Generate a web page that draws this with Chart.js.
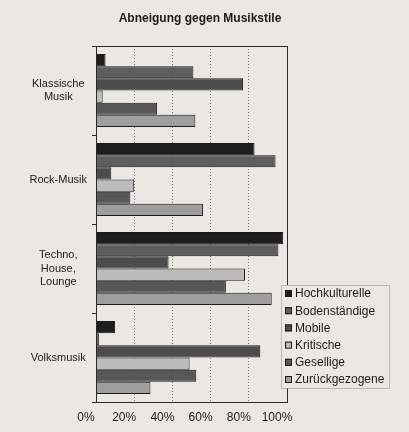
<!DOCTYPE html>
<html>
<head>
<meta charset="utf-8">
<script src="https://cdn.jsdelivr.net/npm/chart.js@4"></script>
<style>
  html, body { margin: 0; padding: 0; background: #ebe8e3; }
  #wrap { width: 409px; height: 432px; }
</style>
</head>
<body>
<div id="wrap"><canvas id="chart" width="409" height="432"></canvas></div>
<script>
const categories = [['Klassische', 'Musik'], 'Rock-Musik', ['Techno,', 'House,', 'Lounge'], 'Volksmusik'];
const seriesNames = ['Hochkulturelle', 'Bodenständige', 'Mobile', 'Kritische', 'Gesellige', 'Zurückgezogene'];
const hochkulturelle = [5, 83, 98, 10];
const bodenstaendige = [51, 94, 95.5, 1.5];
const mobile = [77, 8, 38, 86];
const kritische = [3.5, 20, 78, 49];
const gesellige = [32, 18, 68, 52.5];
const zurueckgezogene = [52, 56, 92, 28.5];
const xTicks = [0, 20, 40, 60, 80, 100];

const colors = ['#1e1e1e', '#5e5e5e', '#4c4c4c', '#bcbcbc', '#575757', '#9e9e9e'];
const values = [hochkulturelle, bodenstaendige, mobile, kritische, gesellige, zurueckgezogene];
const bg = '#ebe8e3';
const ink = '#1a1a1a';

// frame around the plot, the title moved to the page centre, legend drawn over the plot
const framePlugin = {
  id: 'frame',
  afterLayout(chart) {
    if (chart.titleBlock) {
      chart.titleBlock.left = 0;
      chart.titleBlock.right = 400;
    }
  },
  afterDatasetsDraw(chart) {
    const { ctx, chartArea: a } = chart;
    ctx.save();
    ctx.strokeStyle = '#2a2a2a';
    ctx.lineWidth = 1;
    ctx.strokeRect(Math.round(a.left) + 0.5, Math.round(a.top) + 0.5, Math.round(a.right - a.left), Math.round(a.bottom - a.top));
    ctx.restore();
  },
  afterDraw(chart) {
    const ctx = chart.ctx;
    const x = 281, y = 285, w = 108, h = 103;
    ctx.save();
    ctx.fillStyle = bg;
    ctx.fillRect(x, y, w, h);
    ctx.strokeStyle = '#8a8a8a';
    ctx.setLineDash([1, 1]);
    ctx.strokeRect(x + 0.5, y + 0.5, w, h);
    ctx.setLineDash([]);
    ctx.font = '12px "Liberation Sans", Arial, sans-serif';
    ctx.textBaseline = 'middle';
    chart.data.datasets.forEach((ds, i) => {
      const cy = y + 9 + i * 17.2;
      ctx.fillStyle = ds.backgroundColor;
      ctx.fillRect(x + 4, cy - 4, 7, 7);
      ctx.strokeStyle = ink;
      ctx.strokeRect(x + 4.5, cy - 3.5, 6, 6);
      ctx.fillStyle = ink;
      ctx.fillText(ds.label, x + 14, cy);
    });
    ctx.restore();
  }
};

new Chart(document.getElementById('chart'), {
  type: 'bar',
  data: {
    labels: categories,
    datasets: seriesNames.map((name, i) => ({
      label: name,
      data: values[i],
      backgroundColor: colors[i],
      borderColor: ink,
      borderWidth: 1,
      categoryPercentage: 0.82,
      barPercentage: 1
    }))
  },
  options: {
    indexAxis: 'y',
    responsive: false,
    animation: false,
    layout: { padding: { left: 26, right: 122, top: 0, bottom: 5 } },
    scales: {
      x: {
        min: 0,
        max: 100,
        afterBuildTicks: (scale) => { scale.ticks = xTicks.map(v => ({ value: v })); },
        afterFit: (scale) => { scale.height = 25; },
        ticks: {
          callback: (v) => v + '%',
          color: ink,
          padding: 8,
          labelOffset: -10,
          maxRotation: 0,
          font: { family: '"Liberation Sans", Arial, sans-serif', size: 12 }
        },
        grid: {
          drawTicks: false,
          color: (c) => (c.tick && (c.tick.value === 0 || c.tick.value === 100)) ? 'rgba(0,0,0,0)' : '#7a7a7a'
        },
        border: { display: true, color: '#2a2a2a', dash: [1, 2] }
      },
      y: {
        afterFit: (scale) => { scale.width = 70; },
        ticks: {
          color: ink,
          crossAlign: 'center',
          padding: 5,
          font: { family: '"Liberation Sans", Arial, sans-serif', size: 11, lineHeight: 1.25 }
        },
        grid: {
          drawOnChartArea: false,
          drawTicks: true,
          tickLength: 4,
          color: '#2a2a2a'
        },
        border: { display: true, color: '#2a2a2a' }
      }
    },
    plugins: {
      legend: { display: false },
      tooltip: { enabled: false },
      title: {
        display: true,
        text: 'Abneigung gegen Musikstile',
        color: ink,
        font: { family: '"Liberation Sans", Arial, sans-serif', size: 12, weight: 'bold', lineHeight: 1.2 },
        padding: { top: 11, bottom: 20.6 }
      }
    }
  },
  plugins: [framePlugin]
});
</script>
</body>
</html>
